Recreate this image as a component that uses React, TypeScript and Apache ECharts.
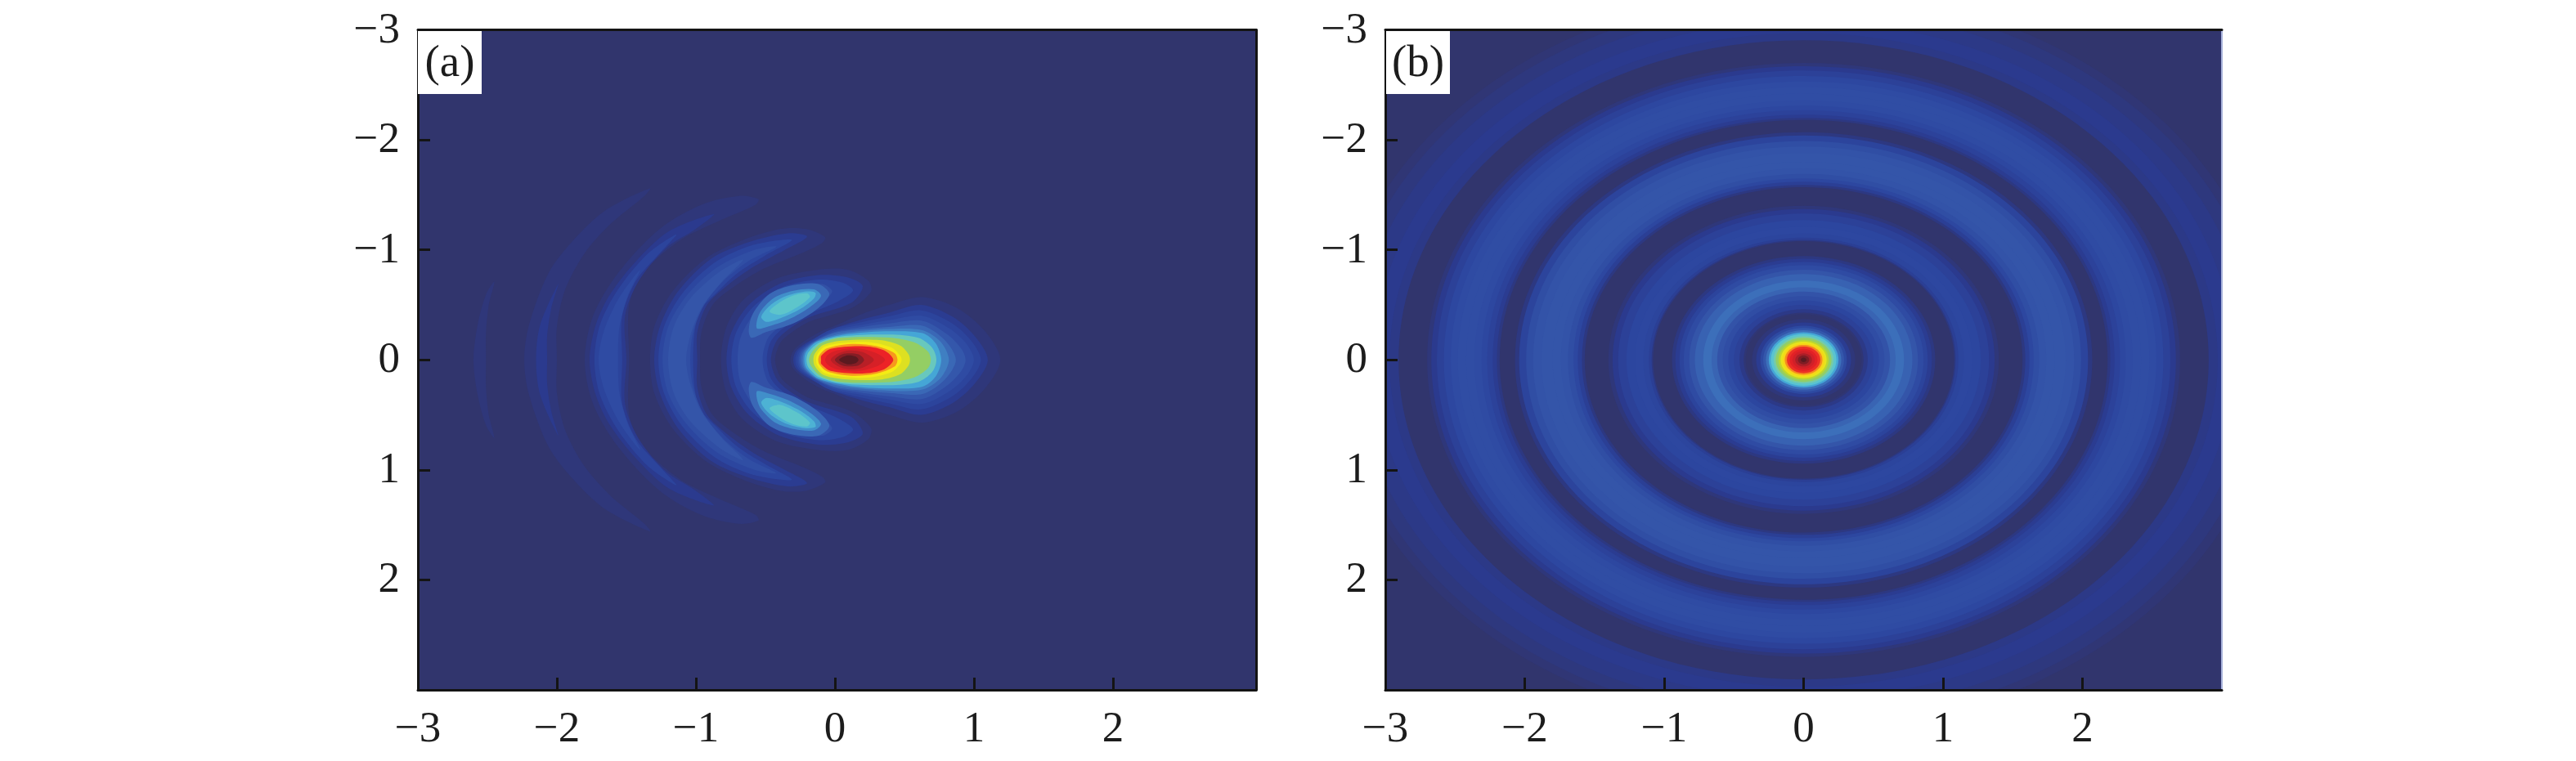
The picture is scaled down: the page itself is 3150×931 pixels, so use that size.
import React, { useEffect, useRef } from "react";
import * as echarts from "echarts";

// Tick labels shared by both panels
const tickValues = [-3, -2, -1, 0, 1, 2];
const innerTickValues = [-2, -1, 0, 1, 2];

// Colour scale, evenly spaced over the value range 0..1
const rampColors = [
  "#31356D", "#2B3A8E", "#2C469F", "#3353A8", "#3A68B6", "#3F7FC2", "#45A6D6",
  "#5AC4D0", "#7CCDA0", "#A4CF3C", "#DDE021", "#F5EB14", "#F9B41B", "#F36F21",
  "#EC2227", "#E02126", "#D02028", "#B81F26", "#98202A", "#781C22", "#5A1A20",
];

// Panel (b): radial profile read along y = 0, outermost band first
const ringRadii = [
  3.37, 3.3, 3.2, 3.08, 2.97, 2.905, 2.7, 2.67, 2.63, 2.58, 2.53, 2.48, 2.42, 2.36, 2.31, 2.27, 2.23, 2.2, 2.18,
  2.07, 2.04, 1.99, 1.94, 1.88, 1.8, 1.74, 1.69, 1.65, 1.62, 1.59, 1.57,
  1.4, 1.37, 1.33, 1.27, 1.21, 1.15, 1.11, 1.09, 1.08,
  0.944, 0.92, 0.89, 0.86, 0.82, 0.78, 0.72, 0.66, 0.62, 0.58, 0.54, 0.5, 0.46, 0.43, 0.415,
  0.37, 0.34, 0.31, 0.29, 0.27, 0.25, 0.235, 0.215, 0.2, 0.18, 0.165, 0.15, 0.135, 0.12, 0.1, 0.08, 0.06, 0.04, 0.02,
];
const ringValues = [
  0.012, 0.025, 0.04, 0.05, 0.04, 0, 0.02, 0.05, 0.08, 0.105, 0.12, 0.125, 0.125, 0.12, 0.105, 0.085, 0.06, 0.03, 0,
  0.03, 0.09, 0.13, 0.15, 0.155, 0.155, 0.15, 0.13, 0.105, 0.07, 0.03, 0,
  0.02, 0.05, 0.08, 0.1, 0.105, 0.095, 0.07, 0.03, 0,
  0.03, 0.06, 0.09, 0.12, 0.155, 0.185, 0.215, 0.19, 0.15, 0.125, 0.1, 0.08, 0.04, 0.01, 0,
  0.02, 0.06, 0.11, 0.16, 0.22, 0.3, 0.35, 0.39, 0.43, 0.47, 0.52, 0.57, 0.63, 0.69, 0.74, 0.8, 0.87, 0.94, 1,
];

// Panel (a): contour outlines of the upper half (y <= 0); the picture is mirror-symmetric about y = 0
const fifthArcLevels = [0.02];
const fifthArcContours = [
  [[-2.6, 0], [-2.57, -0.32], [-2.51, -0.595], [-2.45, -0.71], [-2.49, -0.5], [-2.51, -0.25], [-2.51, 0]],
];
const fourthArcLevels = [0.02, 0.05];
const fourthArcContours = [
  [[-2.235, 0], [-2.2, -0.32], [-2.06, -0.79], [-1.88, -1.09], [-1.65, -1.36], [-1.33, -1.56], [-1.37, -1.49], [-1.61, -1.24], [-1.8, -0.97], [-1.94, -0.64], [-2.0, -0.3], [-2.0, 0]],
  [[-2.15, 0], [-2.12, -0.32], [-1.99, -0.69], [-2.04, -0.47], [-2.07, -0.22], [-2.07, 0]],
];
const thirdArcLevels = [0.02, 0.05, 0.09, 0.12];
const thirdArcContours = [
  [[-1.8, 0], [-1.74, -0.4], [-1.56, -0.79], [-1.26, -1.19], [-0.96, -1.41], [-0.69, -1.49], [-0.55, -1.46], [-0.57, -1.41], [-0.84, -1.26], [-1.11, -1.09], [-1.38, -0.79], [-1.48, -0.5], [-1.48, 0]],
  [[-1.765, 0], [-1.725, -0.3], [-1.63, -0.57], [-1.45, -0.87], [-1.2, -1.165], [-0.87, -1.325], [-1.0, -1.19], [-1.215, -1.015], [-1.41, -0.72], [-1.51, -0.4], [-1.5, 0]],
  [[-1.73, 0], [-1.69, -0.32], [-1.56, -0.64], [-1.35, -0.96], [-1.14, -1.14], [-1.26, -0.97], [-1.43, -0.72], [-1.53, -0.4], [-1.53, 0]],
  [[-1.7, 0], [-1.66, -0.27], [-1.55, -0.57], [-1.4, -0.82], [-1.49, -0.58], [-1.55, -0.3], [-1.56, 0]],
];
const secondArcLevels = [0.02, 0.06, 0.1, 0.13, 0.155];
const secondArcContours = [
  [[-1.33, 0], [-1.3, -0.3], [-1.17, -0.62], [-0.93, -0.92], [-0.66, -1.09], [-0.39, -1.19], [-0.21, -1.19], [-0.07, -1.115], [-0.09, -1.065], [-0.24, -0.97], [-0.51, -0.83], [-0.72, -0.67], [-0.88, -0.5], [-0.96, -0.25], [-0.97, 0]],
  [[-1.3, 0], [-1.26, -0.3], [-1.13, -0.62], [-0.89, -0.92], [-0.62, -1.07], [-0.34, -1.15], [-0.2, -1.12], [-0.36, -1.0], [-0.58, -0.85], [-0.77, -0.68], [-0.92, -0.5], [-0.99, -0.25], [-0.99, 0]],
  [[-1.27, 0], [-1.23, -0.3], [-1.1, -0.6], [-0.87, -0.88], [-0.6, -1.04], [-0.31, -1.09], [-0.5, -0.95], [-0.7, -0.79], [-0.86, -0.6], [-0.97, -0.45], [-1.01, -0.25], [-1.02, 0]],
  [[-1.24, 0], [-1.2, -0.3], [-1.07, -0.58], [-0.85, -0.84], [-0.58, -1.0], [-0.42, -1.03], [-0.62, -0.9], [-0.8, -0.72], [-0.94, -0.5], [-1.02, -0.25], [-1.04, 0]],
  [[-1.2, 0], [-1.16, -0.3], [-1.04, -0.56], [-0.83, -0.8], [-0.66, -0.91], [-0.82, -0.7], [-0.96, -0.47], [-1.04, -0.22], [-1.07, 0]],
];
const firstArcLevels = [0.02, 0.06, 0.1, 0.14, 0.2, 0.27, 0.32, 0.355];
const firstArcContours = [
  [[-0.82, 0], [-0.78, -0.3], [-0.66, -0.545], [-0.42, -0.74], [-0.12, -0.82], [0.09, -0.82], [0.24, -0.72], [0.26, -0.62], [0.12, -0.47], [-0.18, -0.35], [-0.3, -0.26], [-0.39, -0.16], [-0.43, 0]],
  [[-0.78, 0], [-0.745, -0.25], [-0.62, -0.5], [-0.4, -0.69], [-0.12, -0.77], [0.09, -0.75], [0.2, -0.67], [0.12, -0.52], [-0.18, -0.39], [-0.33, -0.28], [-0.42, -0.17], [-0.46, 0]],
  [[-0.745, 0], [-0.71, -0.25], [-0.59, -0.48], [-0.38, -0.66], [-0.12, -0.73], [0.06, -0.7], [0.13, -0.63], [0.02, -0.53], [-0.18, -0.42], [-0.36, -0.3], [-0.46, -0.17], [-0.49, 0]],
  [[-0.7, 0], [-0.68, -0.2], [-0.6, -0.39], [-0.5, -0.54], [-0.31, -0.655], [-0.09, -0.69], [-0.02, -0.62], [-0.12, -0.5], [-0.34, -0.35], [-0.47, -0.22], [-0.51, -0.1], [-0.52, 0]],
  [[-0.62, -0.27], [-0.59, -0.42], [-0.47, -0.6], [-0.3, -0.68], [-0.12, -0.69], [-0.04, -0.6], [-0.12, -0.47], [-0.3, -0.33], [-0.5, -0.25], [-0.6, -0.2]],
  [[-0.56, -0.36], [-0.53, -0.45], [-0.43, -0.57], [-0.29, -0.63], [-0.15, -0.64], [-0.1, -0.58], [-0.18, -0.48], [-0.33, -0.37], [-0.49, -0.3], [-0.56, -0.285]],
  [[-0.53, -0.39], [-0.47, -0.49], [-0.36, -0.575], [-0.22, -0.62], [-0.14, -0.61], [-0.15, -0.56], [-0.24, -0.47], [-0.37, -0.39], [-0.49, -0.345]],
  [[-0.47, -0.44], [-0.4, -0.52], [-0.3, -0.585], [-0.2, -0.605], [-0.18, -0.57], [-0.27, -0.48], [-0.39, -0.41]],
];
const coreLevels = [0.02, 0.06, 0.09, 0.12, 0.16, 0.2, 0.25, 0.3, 0.37, 0.43, 0.5, 0.55, 0.62, 0.7, 0.78, 0.85, 0.93, 1];
const coreContours = [
  [[-0.32, 0], [-0.3, -0.08], [-0.22, -0.17], [-0.1, -0.26], [0, -0.31], [0.2, -0.42], [0.39, -0.5], [0.63, -0.57], [0.88, -0.47], [1.08, -0.26], [1.19, 0]],
  [[-0.3, 0], [-0.28, -0.08], [-0.2, -0.16], [-0.08, -0.24], [0, -0.29], [0.2, -0.37], [0.39, -0.43], [0.62, -0.5], [0.85, -0.39], [1.01, -0.21], [1.1, 0]],
  [[-0.285, 0], [-0.265, -0.08], [-0.185, -0.16], [-0.04, -0.27], [0.2, -0.345], [0.39, -0.395], [0.62, -0.45], [0.84, -0.335], [0.98, -0.175], [1.05, 0]],
  [[-0.27, 0], [-0.25, -0.08], [-0.17, -0.16], [0, -0.27], [0.2, -0.32], [0.39, -0.36], [0.63, -0.4], [0.83, -0.28], [0.95, -0.14], [1.0, 0]],
  [[-0.258, 0], [-0.238, -0.08], [-0.155, -0.165], [0, -0.255], [0.2, -0.3], [0.39, -0.33], [0.63, -0.355], [0.81, -0.23], [0.91, -0.1], [0.94, 0]],
  [[-0.245, 0], [-0.225, -0.08], [-0.14, -0.17], [0, -0.245], [0.2, -0.28], [0.39, -0.3], [0.63, -0.31], [0.79, -0.18], [0.87, 0]],
  [[-0.232, 0], [-0.215, -0.08], [-0.13, -0.17], [0.05, -0.24], [0.39, -0.28], [0.63, -0.27], [0.76, -0.165], [0.82, 0]],
  [[-0.22, 0], [-0.206, -0.074], [-0.12, -0.17], [0.1, -0.235], [0.39, -0.26], [0.63, -0.243], [0.725, -0.15], [0.765, 0]],
  [[-0.205, 0], [-0.19, -0.07], [-0.11, -0.16], [0.06, -0.215], [0.39, -0.23], [0.6, -0.2], [0.7, -0.11], [0.73, 0]],
  [[-0.186, 0], [-0.17, -0.06], [-0.1, -0.15], [0.04, -0.2], [0.39, -0.203], [0.57, -0.16], [0.67, -0.075], [0.69, 0]],
  [[-0.155, 0], [-0.145, -0.055], [-0.085, -0.135], [0.05, -0.175], [0.32, -0.18], [0.47, -0.13], [0.53, -0.05], [0.54, 0]],
  [[-0.135, 0], [-0.127, -0.05], [-0.075, -0.12], [0.06, -0.154], [0.255, -0.16], [0.41, -0.11], [0.47, -0.037], [0.48, 0]],
  [[-0.12, 0], [-0.11, -0.045], [-0.055, -0.105], [0.12, -0.145], [0.3, -0.125], [0.43, -0.06], [0.45, 0]],
  [[-0.1, 0], [-0.098, -0.037], [-0.03, -0.1], [0.195, -0.124], [0.353, -0.087], [0.42, 0]],
  [[-0.07, 0], [-0.055, -0.04], [0, -0.08], [0.15, -0.105], [0.3, -0.06], [0.36, 0]],
  [[-0.03, 0], [0.02, -0.055], [0.1, -0.085], [0.2, -0.07], [0.28, 0]],
  [[0, 0], [0.04, -0.045], [0.09, -0.06], [0.17, -0.05], [0.21, 0]],
  [[0.03, 0], [0.09, -0.04], [0.15, -0.03], [0.17, 0]],
];

const allContours = [
  ...fifthArcContours, ...fourthArcContours, ...thirdArcContours,
  ...secondArcContours, ...firstArcContours, ...coreContours,
];
const allLevels = [
  ...fifthArcLevels, ...fourthArcLevels, ...thirdArcLevels,
  ...secondArcLevels, ...firstArcLevels, ...coreLevels,
];

const INK = "#141414";
const FONT = '"Liberation Serif", "Times New Roman", serif';
const minusLabel = (v: number) => (v < 0 ? "\u2212" + Math.abs(v) : String(v));

function renderContour(_params: any, api: any) {
  const pts = allContours[api.value(0)];
  const fill = api.visual("color");
  const toPx = (p: number[]) => api.coord(p);
  const first = pts[0];
  const last = pts[pts.length - 1];
  const poly = (points: number[][]) => ({
    type: "polygon",
    shape: { points, smooth: 0.3 },
    style: { fill },
    silent: true,
  });
  if (first[1] === 0 && last[1] === 0) {
    const lower = pts.slice(1, -1).reverse().map((p) => [p[0], -p[1]]);
    return { type: "group", children: [poly([...pts, ...lower].map(toPx))] };
  }
  return {
    type: "group",
    children: [poly(pts.map(toPx)), poly(pts.map((p) => [p[0], -p[1]]).map(toPx))],
  };
}

function renderRing(_params: any, api: any) {
  const r = api.value(0);
  const c = api.coord([0, 0]);
  const e = api.coord([r, r]);
  return {
    type: "ellipse",
    shape: { cx: c[0], cy: c[1], rx: Math.abs(e[0] - c[0]), ry: Math.abs(e[1] - c[1]) },
    style: { fill: api.visual("color") },
    silent: true,
  };
}

const axisText = { fontFamily: FONT, fontSize: 53, color: "#1c1c1c" };

function xAxes(gridIndex: number, max: number, withTop: boolean) {
  const main = {
    type: "value",
    gridIndex,
    min: -3,
    max,
    position: "bottom",
    z: 5,
    splitLine: { show: false },
    axisLine: { show: true, onZero: false, lineStyle: { color: INK, width: 3 } },
    axisTick: { show: true, inside: true, length: 15, lineStyle: { color: INK, width: 3 }, customValues: innerTickValues },
    axisLabel: { ...axisText, margin: 18, formatter: minusLabel, customValues: tickValues, showMinLabel: true, hideOverlap: false },
  };
  const top = {
    type: "value",
    gridIndex,
    min: -3,
    max,
    position: "top",
    z: 5,
    splitLine: { show: false },
    axisLine: { show: withTop, onZero: false, lineStyle: { color: INK, width: 3 } },
    axisTick: { show: false },
    axisLabel: { show: false },
  };
  return [main, top];
}

function yAxes(gridIndex: number, rightColor: string, rightWidth: number) {
  const main = {
    type: "value",
    gridIndex,
    min: -3,
    max: 3,
    inverse: true,
    position: "left",
    z: 5,
    splitLine: { show: false },
    axisLine: { show: true, onZero: false, lineStyle: { color: INK, width: 3 } },
    axisTick: { show: true, inside: true, length: 15, lineStyle: { color: INK, width: 3 }, customValues: innerTickValues },
    axisLabel: { ...axisText, margin: 22, verticalAlign: "bottom", lineHeight: 6, formatter: minusLabel, customValues: tickValues, showMinLabel: true, hideOverlap: false },
  };
  const right = {
    type: "value",
    gridIndex,
    min: -3,
    max: 3,
    inverse: true,
    position: "right",
    z: 5,
    splitLine: { show: false },
    axisLine: { show: true, onZero: false, lineStyle: { color: rightColor, width: rightWidth } },
    axisTick: { show: false },
    axisLabel: { show: false },
  };
  return [main, right];
}

function panelTag(text: string, x: number) {
  return [
    { type: "rect", z: 20, shape: { x, y: 38, width: 78, height: 77 }, style: { fill: "#ffffff" }, silent: true },
    {
      type: "text", z: 21, x: x + 39, y: 74,
      style: { text, fontFamily: FONT, fontSize: 55, fill: "#1c1c1c", align: "center", verticalAlign: "middle" },
      silent: true,
    },
  ];
}

export default function App() {
  const ref = useRef<HTMLDivElement>(null);

  useEffect(() => {
    document.body.style.margin = "0";
    const chart = echarts.init(ref.current!, undefined, { renderer: "svg" });
    chart.setOption({
      animation: false,
      backgroundColor: "#ffffff",
      grid: [
        { left: 511, top: 36.5, width: 1025, height: 807.5, show: true, backgroundColor: rampColors[0], borderWidth: 0 },
        { left: 1694, top: 36.5, width: 1023, height: 807.5, show: true, backgroundColor: rampColors[0], borderWidth: 0 },
      ],
      xAxis: [...xAxes(0, 3.03, true), ...xAxes(1, 3, true)],
      yAxis: [...yAxes(0, INK, 3), ...yAxes(1, "#aab4dc", 2)],
      visualMap: {
        show: false,
        type: "continuous",
        min: 0,
        max: 1,
        dimension: 1,
        seriesIndex: [0, 1],
        inRange: { color: rampColors },
      },
      series: [
        {
          type: "custom",
          xAxisIndex: 0,
          yAxisIndex: 0,
          z: 2,
          clip: true,
          silent: true,
          renderItem: renderContour,
          encode: { x: 0, y: 1 },
          data: allLevels.map((v, i) => [i, v]),
        },
        {
          type: "custom",
          xAxisIndex: 2,
          yAxisIndex: 2,
          z: 2,
          clip: true,
          silent: true,
          renderItem: renderRing,
          encode: { x: 0, y: 1 },
          data: ringRadii.map((r, i) => [r, ringValues[i]]),
        },
      ],
      graphic: { elements: [...panelTag("(a)", 511), ...panelTag("(b)", 1695)] },
    });
    return () => chart.dispose();
  }, []);

  return <div ref={ref} style={{ width: 3150, height: 931 }} />;
}
